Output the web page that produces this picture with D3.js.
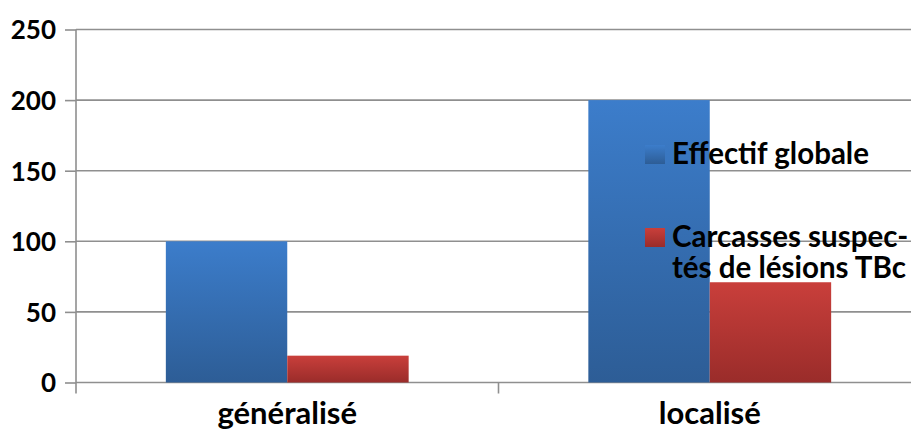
<!DOCTYPE html>
<html>
<head>
<meta charset="utf-8">
<script src="https://cdn.jsdelivr.net/npm/d3@7/dist/d3.min.js"></script>
<style>
  html, body { margin: 0; padding: 0; background: #fff; }
  svg { display: block; font-family: Lato, "Open Sans", sans-serif; font-weight: bold; }
</style>
</head>
<body>
<svg id="chart" width="911" height="430"></svg>
<script>
// Categories and series
const categories = ["généralisé", "localisé"];
const seriesNames = ["Effectif globale", "Carcasses suspectés de lésions TBc"];
const effectifGlobale = [100, 200];
const carcassesSuspectes = [19, 71];
const yTicks = [0, 50, 100, 150, 200, 250];

const svg = d3.select("#chart");
const margin = { left: 76, top: 29.5, bottom: 382.5, right: 921 };

const x = d3.scaleBand().domain(categories).range([margin.left, margin.right]);
const xInner = d3.scaleBand().domain([0, 1]).range([0, x.bandwidth()]).paddingOuter(0.74).paddingInner(0);
const y = d3.scaleLinear().domain([0, 250]).range([margin.bottom, margin.top]);

// Gradients for bars
const defs = svg.append("defs");
const grads = [
  { id: "gBlue", top: "#3c7dcb", bottom: "#2d5d96" },
  { id: "gRed", top: "#c93f3b", bottom: "#9a2c2a" }
];
grads.forEach(g => {
  const lg = defs.append("linearGradient").attr("id", g.id)
    .attr("x1", 0).attr("y1", 0).attr("x2", 0).attr("y2", 1);
  lg.append("stop").attr("offset", "0%").attr("stop-color", g.top);
  lg.append("stop").attr("offset", "100%").attr("stop-color", g.bottom);
});

// Horizontal gridlines
svg.append("g")
  .selectAll("line").data(yTicks).join("line")
  .attr("x1", margin.left).attr("x2", 911)
  .attr("y1", d => y(d)).attr("y2", d => y(d))
  .attr("stroke", "#8f8f8f").attr("stroke-width", 1.6);

// Y axis
const yAxis = d3.axisLeft(y).tickValues(yTicks).tickSize(11).tickPadding(9).tickFormat(d3.format("d"));
const gy = svg.append("g").attr("transform", `translate(${margin.left},0)`).call(yAxis);
gy.select(".domain").remove();
gy.append("line").attr("x1", 0).attr("x2", 0).attr("y1", margin.top).attr("y2", margin.bottom + 11)
  .attr("stroke", "#8f8f8f").attr("stroke-width", 1.6);
gy.selectAll(".tick line").attr("stroke", "#8f8f8f").attr("stroke-width", 1.6);
gy.selectAll(".tick text").attr("font-size", 26).attr("font-weight", "bold")
  .attr("font-family", "Lato, sans-serif").attr("fill", "#000").attr("dy", "0.36em");

// Category separators below the axis
svg.append("g").selectAll("line").data(categories.slice(1)).join("line")
  .attr("x1", d => x(d)).attr("x2", d => x(d))
  .attr("y1", margin.bottom).attr("y2", margin.bottom + 11)
  .attr("stroke", "#8f8f8f").attr("stroke-width", 1.6);

// Category labels
svg.append("g").selectAll("text").data(categories).join("text")
  .attr("x", d => x(d) + x.bandwidth() / 2)
  .attr("y", 424)
  .attr("text-anchor", "middle")
  .attr("font-size", 31).attr("fill", "#000")
  .text(d => d);

// Bars
const seriesValues = [effectifGlobale, carcassesSuspectes];
seriesValues.forEach((vals, si) => {
  svg.append("g").selectAll("rect").data(categories).join("rect")
    .attr("x", (c) => x(c) + xInner(si))
    .attr("width", xInner.bandwidth())
    .attr("y", (c, i) => y(vals[i]))
    .attr("height", (c, i) => y(0) - y(vals[i]))
    .attr("fill", `url(#${grads[si].id})`);
});

// Legend (long label wrapped over two lines)
const legend = svg.append("g").attr("font-size", 29.5).attr("fill", "#000");
const legendItems = [
  { lines: ["Effectif globale"], y: 145 },
  { lines: ["Carcasses suspec-", "tés de lésions TBc"], y: 228 }
];
legendItems.forEach((item, i) => {
  legend.append("rect").attr("x", 645).attr("y", item.y).attr("width", 20).attr("height", 19)
    .attr("fill", `url(#${grads[i].id})`);
  const t = legend.append("text").attr("x", 672).attr("y", item.y + 19);
  item.lines.forEach((ln, j) => {
    t.append("tspan").attr("x", 672).attr("dy", j === 0 ? 0 : 31).text(ln);
  });
});
</script>
</body>
</html>
